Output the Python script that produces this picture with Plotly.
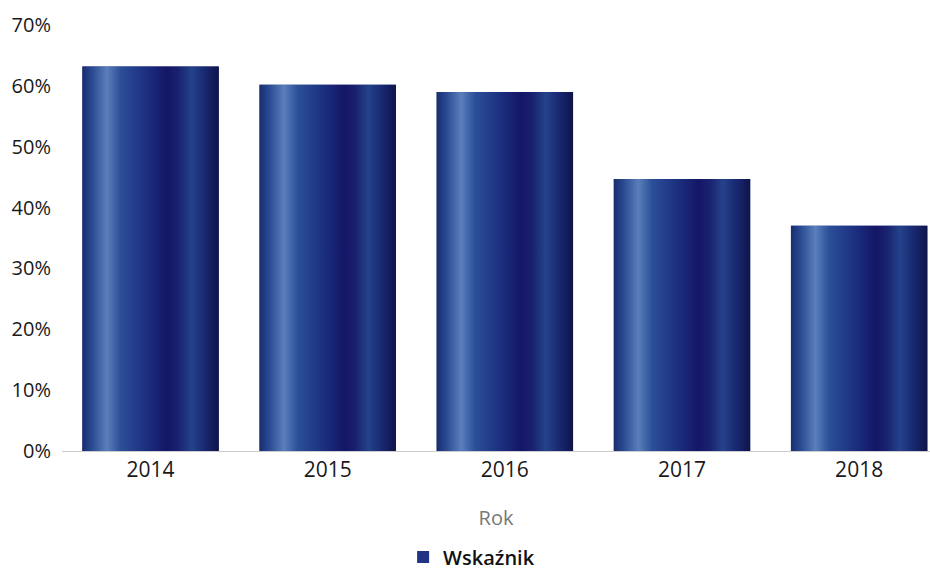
import plotly.graph_objects as go

years = ["2014", "2015", "2016", "2017", "2018"]
values = [0.632, 0.602, 0.590, 0.447, 0.370]
series_name = "Wskaźnik"
y_ticks = [0, 0.1, 0.2, 0.3, 0.4, 0.5, 0.6, 0.7]
y_ticklabels = ["0%", "10%", "20%", "30%", "40%", "50%", "60%", "70%"]

bar_width = 0.77
shade = [
    [0.00, "#1a2c70"],
    [0.07, "#294a92"],
    [0.18, "#5a7fbb"],
    [0.28, "#2c4f98"],
    [0.45, "#1d3282"],
    [0.62, "#141666"],
    [0.70, "#19216e"],
    [0.80, "#24428b"],
    [0.90, "#182870"],
    [1.00, "#0f144a"],
]

fig = go.Figure()

# base bars (also provide the legend entry)
fig.add_trace(go.Bar(
    x=list(range(len(years))), y=values, width=bar_width,
    marker=dict(color="#1f3583", line=dict(width=0)),
    name=series_name, showlegend=True,
))

# cylindrical shading overlays drawn from the same data
for i, v in enumerate(values):
    x0, x1 = i - bar_width / 2, i + bar_width / 2
    fig.add_trace(go.Scatter(
        x=[x0, x0, x1, x1, x0], y=[0, v, v, 0, 0],
        mode="lines", line=dict(width=0, color="rgba(0,0,0,0)"),
        fill="toself",
        fillgradient=dict(type="horizontal", colorscale=shade),
        showlegend=False, hoverinfo="skip",
    ))

fig.update_layout(
    width=930, height=573,
    margin=dict(l=62, r=0, t=25, b=122, autoexpand=False),
    paper_bgcolor="white", plot_bgcolor="white",
    font=dict(family="Open Sans", size=21, color="#1a1a1a"),
    showlegend=True,
    legend=dict(
        orientation="h", x=0.393, xanchor="left", y=-0.249, yanchor="middle",
        font=dict(size=20, color="#111111", weight=600), itemwidth=30,
    ),
    xaxis=dict(
        range=[-0.5, 4.40], automargin=False,
        tickmode="array", tickvals=list(range(len(years))), ticktext=years,
        showgrid=False, zeroline=False,
        showline=True, linecolor="#cccccc", linewidth=1,
        ticks="", ticklabelstandoff=0,
        title=dict(text="Rok", font=dict(size=20, color="#777777"), standoff=28),
    ),
    yaxis=dict(
        range=[0, 0.7], automargin=False,
        tickmode="array", tickvals=y_ticks, ticktext=y_ticklabels,
        tickfont=dict(size=20),
        showgrid=False, zeroline=False, showline=False,
        ticks="", ticklabelstandoff=10,
    ),
)

fig.write_html(
    "out.html",
    config={"displayModeBar": False},
    post_script="document.body.style.margin='0';document.body.style.overflow='hidden';",
)
